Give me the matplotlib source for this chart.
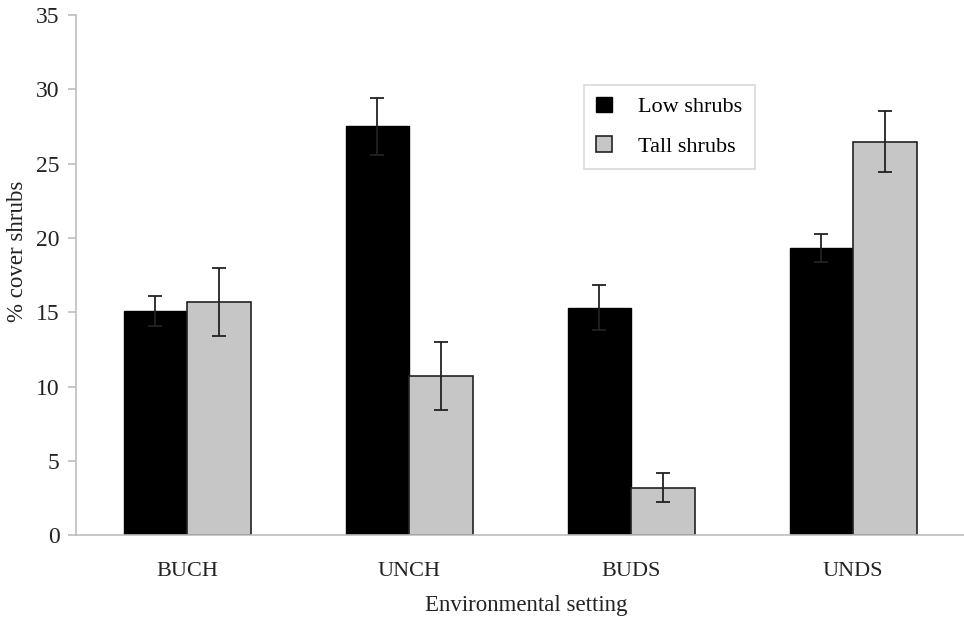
import numpy as np
import matplotlib
matplotlib.use('Agg')
import matplotlib.pyplot as plt

plt.rcParams['font.family'] = ['Liberation Serif', 'DejaVu Serif']

# Data
settings = ['BUCH', 'UNCH', 'BUDS', 'UNDS']
low_shrubs = [15.1, 27.5, 15.3, 19.3]
low_err = [1.0, 1.9, 1.5, 0.95]
tall_shrubs = [15.7, 10.7, 3.2, 26.45]
tall_err = [2.3, 2.3, 0.95, 2.05]

fig = plt.figure(figsize=(9.64, 6.18), dpi=100)
ax = fig.add_axes([0.079, 0.134, 0.921, 0.842])

x = np.arange(len(settings))
w = 0.286
grey = '#bdbdbd'

ax.bar(x - w / 2, low_shrubs, w, color='black', edgecolor='black', linewidth=1,
       label='Low shrubs')
ax.bar(x + w / 2, tall_shrubs, w, color='#c6c6c6', edgecolor='#222222', linewidth=1.2,
       label='Tall shrubs')
ax.errorbar(x - w / 2, low_shrubs, yerr=low_err, fmt='none', ecolor='#222222',
            elinewidth=1.3, capsize=5, capthick=1.3)
ax.errorbar(x + w / 2, tall_shrubs, yerr=tall_err, fmt='none', ecolor='#222222',
            elinewidth=1.3, capsize=5, capthick=1.3)

ax.set_xlim(-0.5, 3.5)
ax.set_ylim(0, 35)
ax.set_yticks(np.arange(0, 36, 5))
ax.set_xticks(x)
ax.set_xticklabels(settings)

for side in ['top', 'right']:
    ax.spines[side].set_visible(False)
for side in ['left', 'bottom']:
    ax.spines[side].set_color(grey)
    ax.spines[side].set_linewidth(1.2)
ax.tick_params(axis='y', colors=grey, labelcolor='#222222', labelsize=17,
               length=6, width=1.2, direction='out', pad=6)
ax.tick_params(axis='x', length=0, labelsize=16, labelcolor='#222222', pad=19)

fig.text(18 / 964, 1 - 251 / 618, '% cover shrubs', rotation=90, fontsize=16.5,
         color='#222222', ha='center', va='center')
fig.text(526 / 964, 1 - 605 / 618, 'Environmental setting', fontsize=16.5,
         color='#222222', ha='center', va='center')

leg = ax.legend(loc='upper left', bbox_to_anchor=(0.572, 0.866), frameon=True,
                fancybox=False, fontsize=16, handlelength=0.7, handleheight=0.7,
                borderpad=0.55, labelspacing=0.85, handletextpad=1.2,
                borderaxespad=0)
leg.get_frame().set_edgecolor('#d0d0d0')
leg.get_frame().set_linewidth(1.2)

fig.savefig('out.png', dpi=100)
